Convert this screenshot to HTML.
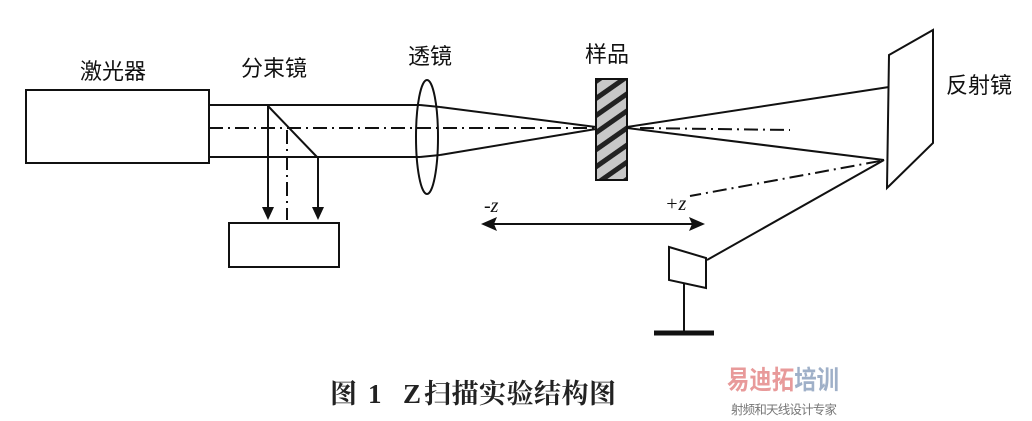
<!DOCTYPE html>
<html><head><meta charset="utf-8"><style>
html,body{margin:0;padding:0;background:#fff;}
body{width:1032px;height:421px;overflow:hidden;position:relative;}
</style></head><body>
<svg width="1032" height="421" viewBox="0 0 1032 421" xmlns="http://www.w3.org/2000/svg" style="position:absolute;left:0;top:0">
<defs>
<pattern id="h" width="14" height="14" patternUnits="userSpaceOnUse" patternTransform="rotate(-35)">
<rect width="14" height="14" fill="#c8c8c8"/><rect width="14" height="5" fill="#222"/>
</pattern>
</defs>
<g fill="none" stroke="#111" stroke-width="2">
<rect x="26" y="90" width="183" height="73"/>
<line x1="209" y1="105" x2="420" y2="105"/>
<line x1="209" y1="157" x2="420" y2="157"/>
<line x1="268" y1="106" x2="317" y2="157"/>
<line x1="268" y1="105" x2="268" y2="215"/>
<line x1="318" y1="157" x2="318" y2="215"/>
<rect x="229" y="223" width="110" height="44"/>
<ellipse cx="427" cy="137" rx="11" ry="57"/>
<line x1="420" y1="105" x2="440" y2="107"/>
<line x1="440" y1="107" x2="596" y2="127"/>
<line x1="420" y1="157" x2="440" y2="155"/>
<line x1="440" y1="155" x2="596" y2="129"/>
<line x1="627" y1="127" x2="889" y2="87"/>
<line x1="627" y1="128" x2="884" y2="160"/>
<polygon points="889,55 933,30 933,143 887,188"/>
<line x1="884" y1="160" x2="707" y2="260"/>
<polygon points="669,247 706,258 706,288 669,280"/>
<line x1="684" y1="284" x2="684" y2="333"/>
<line x1="654" y1="333" x2="714" y2="333" stroke-width="5"/>
<line x1="490" y1="224" x2="694" y2="224"/>
</g>
<g fill="none" stroke="#111" stroke-width="2" stroke-dasharray="14,5,2,5">
<line x1="209" y1="128" x2="595" y2="128"/>
<line x1="287" y1="130" x2="287" y2="220"/>
<line x1="640" y1="128" x2="790" y2="130"/>
<line x1="880" y1="161" x2="690" y2="196"/>
</g>
<rect x="596" y="79" width="31" height="101" fill="url(#h)" stroke="#111" stroke-width="2"/>
<g fill="#111">
<polygon points="262,207 274,207 268,220"/>
<polygon points="312,207 324,207 318,220"/>
<polygon points="481,224 497,217 494,224 497,231"/>
<polygon points="705,224 689,217 692,224 689,231"/>
</g>
<g font-family="'Liberation Sans','Noto Sans CJK SC',sans-serif" font-size="22" fill="#111">
<text x="80" y="79">激光器</text>
<text x="241" y="76">分束镜</text>
<text x="408" y="64">透镜</text>
<text x="585" y="62">样品</text>
<text x="946" y="93">反射镜</text>
</g>
<g font-family="'Liberation Serif',serif" font-style="italic" font-size="20" fill="#111">
<text x="484" y="212">-z</text>
<text x="665" y="210">+z</text>
</g>
<g font-family="'Liberation Serif','Noto Serif CJK SC',serif" font-weight="bold" font-size="27" fill="#222">
<text x="330" y="403">图</text>
<text x="368" y="403">1</text>
<text x="403" y="403">Z</text>
<text x="424" y="403" letter-spacing="0.5">扫描实验结构图</text>
</g>
<text x="727" y="389" font-family="'Noto Sans CJK SC',sans-serif" font-weight="bold" font-size="26" fill="#e89a9a" textLength="112" lengthAdjust="spacingAndGlyphs">易迪拓<tspan fill="#9fb0c8">培训</tspan></text>
<text x="731" y="414" font-family="'Noto Sans CJK SC',sans-serif" font-size="12.5" fill="#777" textLength="106">射频和天线设计专家</text>
</svg>
</body></html>
